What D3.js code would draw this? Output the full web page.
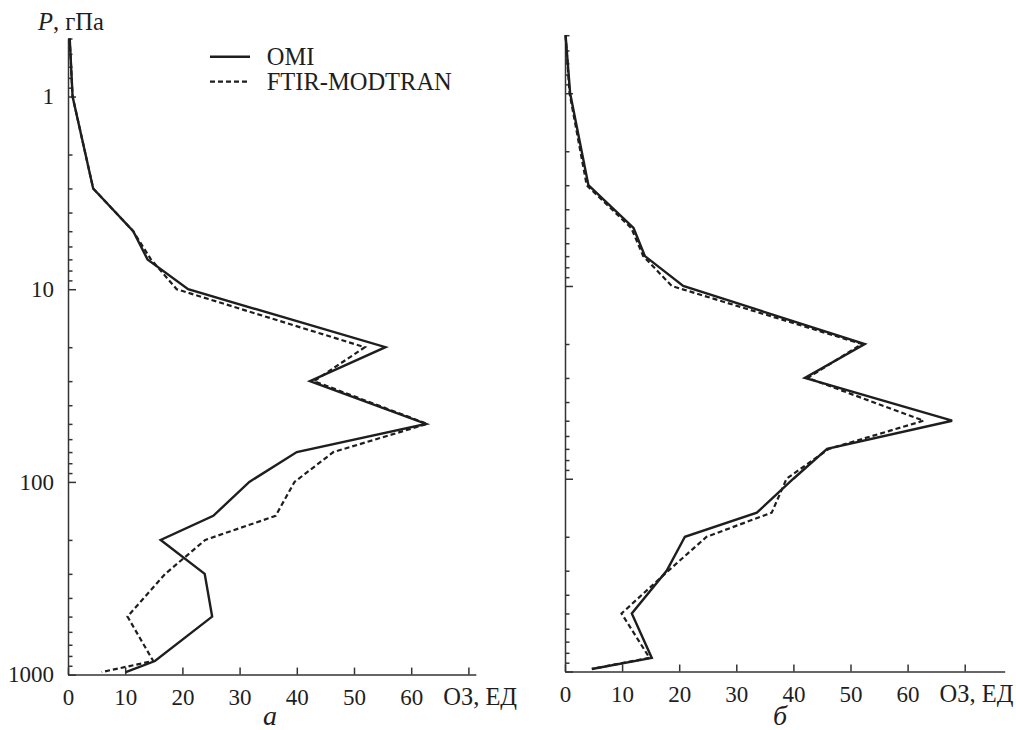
<!DOCTYPE html>
<html>
<head>
<meta charset="utf-8">
<script src="https://cdn.jsdelivr.net/npm/d3@7"></script>
<style>
  html, body { margin: 0; padding: 0; background: #fff; }
  svg { display: block; }
  svg text { font-family: "Liberation Serif", "Times New Roman", "DejaVu Serif", serif !important; fill: #1e1e1e; }
</style>
</head>
<body>
<svg id="chart" width="1016" height="730"></svg>
<script>
// Pressure levels of the profiles, hPa
const pressure = [0.5, 1, 3, 5, 7, 10, 20, 30, 50, 70, 100, 150, 200, 300, 500, 850, 970];

// Panel "а": ozone partial columns, DU
const omiA  = [0.3, 0.8, 4.4, 11.4, 13.9, 21.0, 55.5, 42.3, 62.6, 40.0, 31.7, 25.4, 16.2, 23.9, 25.2, 15.2, 10.1];
const ftirA = [0.3, 0.8, 4.4, 11.4, 14.5, 19.0, 51.9, 43.0, 62.8, 46.4, 39.6, 36.3, 24.0, 17.0, 10.4, 14.9, 5.9];

// Panel "б"
const omiB  = [0.1, 0.9, 4.1, 12.0, 14.0, 20.7, 52.5, 42.0, 67.8, 45.9, 40.0, 33.6, 21.0, 17.8, 11.7, 15.2, 4.7];
const ftirB = [0.1, 0.8, 3.8, 11.6, 13.7, 18.7, 52.0, 42.5, 62.8, 46.2, 38.8, 36.2, 24.8, 18.1, 9.9, 14.8, 4.7];

// Axis ticks
const xTicks = [0, 10, 20, 30, 40, 50, 60, 70];
const xTickLabels = ["0", "10", "20", "30", "40", "50", "60", ""];
const yMajorTicks = [1, 10, 100, 1000];
const yMinorTicks = [0.5, 0.6, 0.7, 0.8, 0.9,
  2, 3, 4, 5, 6, 7, 8, 9,
  20, 30, 40, 50, 60, 70, 80, 90,
  200, 300, 400, 500, 600, 700, 800, 900];

const seriesNames = ["OMI", "FTIR-MODTRAN"];
const xTitle = "ОЗ, ЕД";
const panelLetters = ["а", "б"];

const svg = d3.select("#chart");
const ink = "#1e1e1e";
const FS = 23;      // tick numbers
const FS_T = 24.5;  // titles and legend
const SERIF = "'Liberation Serif', 'Times New Roman', 'DejaVu Serif', serif";

const panels = [
  { left: 68,  xMax: 71.3, pxPerUnit: 5.72, yTop: 38.5, yBot: 674.6, labels: true,
    omi: omiA, ftir: ftirA, letter: panelLetters[0], letterX: 270 },
  { left: 565, xMax: 77.0, pxPerUnit: 5.71, yTop: 35.2, yBot: 671.5, labels: false,
    omi: omiB, ftir: ftirB, letter: panelLetters[1], letterX: 780 }
];

panels.forEach(p => {
  const x = d3.scaleLinear().domain([0, p.xMax]).range([p.left, p.left + p.xMax * p.pxPerUnit]);
  const y = d3.scaleLog().domain([0.5, 1000]).range([p.yTop, p.yBot]);

  const g = svg.append("g");

  // x axis, ticks pointing into the plot
  const xAxis = d3.axisBottom(x)
    .tickValues(xTicks)
    .tickSize(-7)
    .tickSizeOuter(0)
    .tickPadding(14)
    .tickFormat((d, i) => xTickLabels[i]);
  const gx = g.append("g").attr("transform", `translate(0,${p.yBot})`).call(xAxis);

  // y axis: major and minor ticks
  const yMajor = d3.axisLeft(y)
    .tickValues(yMajorTicks)
    .tickSize(-8)
    .tickSizeOuter(0)
    .tickPadding(14)
    .tickFormat(p.labels ? d3.format("d") : () => "");
  const gy = g.append("g").attr("transform", `translate(${p.left},0)`).call(yMajor);
  const yMinor = d3.axisLeft(y)
    .tickValues(yMinorTicks)
    .tickSize(-4.5)
    .tickSizeOuter(0)
    .tickFormat(() => "");
  const gym = g.append("g").attr("transform", `translate(${p.left},0)`).call(yMinor);
  gym.select(".domain").remove();

  [gx, gy, gym].forEach(a => {
    a.attr("font-family", SERIF).attr("font-size", FS);
    a.selectAll("path, line").attr("stroke", "#333").attr("stroke-width", 1.5);
    a.selectAll("text").style("font-family", SERIF)
      .attr("font-size", FS).attr("fill", ink);
  });

  // x axis title
  g.append("text")
    .attr("x", x(60) + 32)
    .attr("y", p.yBot + 30.5)
    .attr("font-size", FS_T)
    .style("font-family", SERIF)
    .text(xTitle);

  // panel letter
  g.append("text")
    .attr("x", p.letterX)
    .attr("y", 725)
    .attr("text-anchor", "middle")
    .attr("font-size", 28)
    .attr("font-style", "italic")
    .style("font-family", SERIF)
    .text(p.letter);

  // profiles
  const line = d3.line()
    .x(d => x(d[0]))
    .y(d => y(d[1]));

  g.append("path")
    .datum(p.ftir.map((v, i) => [v, pressure[i]]))
    .attr("d", line)
    .attr("fill", "none")
    .attr("stroke", ink)
    .attr("stroke-width", 2.2)
    .attr("stroke-dasharray", "5,3")
    .attr("stroke-linejoin", "miter");

  g.append("path")
    .datum(p.omi.map((v, i) => [v, pressure[i]]))
    .attr("d", line)
    .attr("fill", "none")
    .attr("stroke", ink)
    .attr("stroke-width", 2.4)
    .attr("stroke-linejoin", "miter");
});

// y axis title: italic P followed by the unit
const yTitle = svg.append("text").attr("x", 38).attr("y", 30)
  .attr("font-size", FS_T).style("font-family", SERIF);
yTitle.append("tspan").attr("font-style", "italic").text("P");
yTitle.append("tspan").text(", гПа");

// legend
const legend = svg.append("g");
seriesNames.forEach((name, i) => {
  const ly = 56.7 + i * 25;
  legend.append("line")
    .attr("x1", 210).attr("x2", 250)
    .attr("y1", ly).attr("y2", ly)
    .attr("stroke", ink)
    .attr("stroke-width", i === 0 ? 2.4 : 2.2)
    .attr("stroke-dasharray", i === 0 ? null : "5,3");
  legend.append("text")
    .attr("x", 266.7)
    .attr("y", ly + 8.3)
    .attr("font-size", FS_T)
    .style("font-family", SERIF)
    .text(name);
});
</script>
</body>
</html>
